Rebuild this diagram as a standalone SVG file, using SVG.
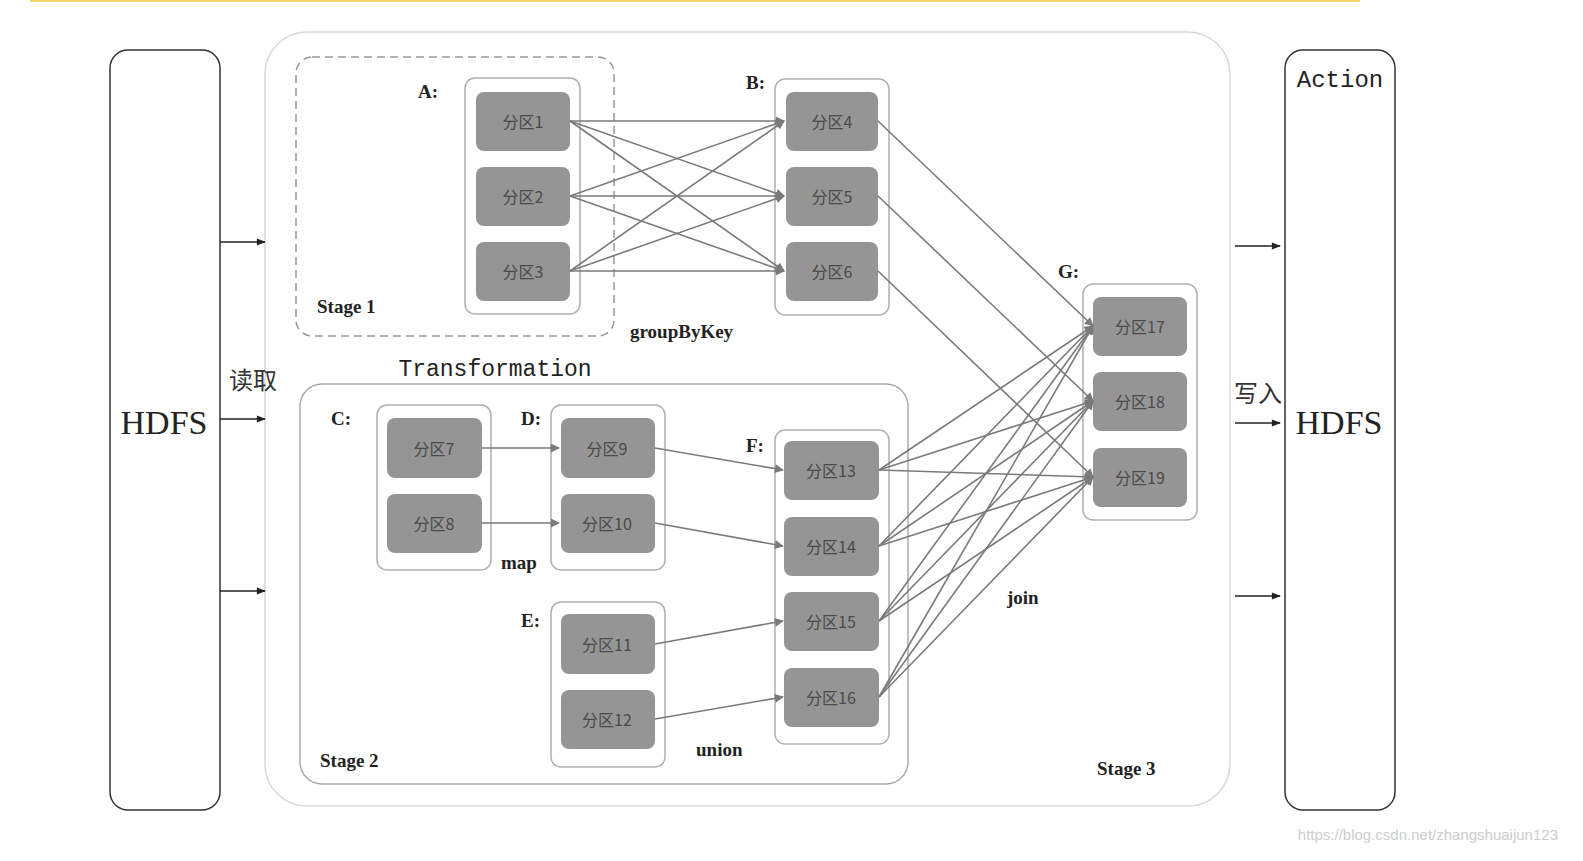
<svg xmlns="http://www.w3.org/2000/svg" width="1583" height="861" viewBox="0 0 1583 861">
<style>
.grp{fill:#fff;stroke:#b0b0b0;stroke-width:1.5}
.nd rect{fill:#959595;stroke:none}
.nd text{fill:#4a4a4a;font-family:"Noto Sans CJK SC","Liberation Serif",serif;font-size:16px;text-anchor:middle;dominant-baseline:central}
.lbl{font-family:"Liberation Serif",serif;font-size:19px;fill:#222;font-weight:bold}
.e{stroke:#7a7a7a;stroke-width:1.6;fill:none;marker-end:url(#ah)}
.k{stroke:#222;stroke-width:1.5;marker-end:url(#bk)}
</style>
<defs>
<marker id="ah" viewBox="0 0 10 10" refX="9" refY="5" markerWidth="10" markerHeight="9" orient="auto" markerUnits="userSpaceOnUse"><path d="M0,0L10,5L0,10z" fill="#7a7a7a"/></marker>
<marker id="bk" viewBox="0 0 10 10" refX="9" refY="5" markerWidth="10" markerHeight="9" orient="auto" markerUnits="userSpaceOnUse"><path d="M0,1L10,5L0,9z" fill="#222"/></marker>
</defs>
<rect width="1583" height="861" fill="#fff"/>
<line x1="30" y1="1" x2="1360" y2="1" stroke="#f5d66a" stroke-width="2"/>
<g id="hdfs-in"><rect x="110" y="50" width="110" height="760" rx="18" fill="#fff" stroke="#333" stroke-width="1.5"/><text x="164" y="434" font-family="Liberation Serif,serif" font-size="34" text-anchor="middle" fill="#222">HDFS</text></g>
<g id="hdfs-out"><rect x="1285" y="50" width="110" height="760" rx="18" fill="#fff" stroke="#333" stroke-width="1.5"/><text x="1340" y="87" font-family="Liberation Mono,monospace" font-size="24" text-anchor="middle" fill="#222">Action</text><text x="1339" y="434" font-family="Liberation Serif,serif" font-size="34" text-anchor="middle" fill="#222">HDFS</text></g>
<g id="stage3"><rect x="265" y="32" width="965" height="774" rx="42" fill="#fff" stroke="#d8d8d8" stroke-width="1.5"/><text class="lbl" x="1097" y="775">Stage 3</text></g>
<g id="stage1"><rect x="296" y="57" width="318" height="279" rx="16" fill="none" stroke="#999" stroke-width="1.5" stroke-dasharray="8,5"/><text class="lbl" x="317" y="313">Stage 1</text></g>
<g id="stage2"><rect x="300" y="384" width="608" height="400" rx="22" fill="none" stroke="#aaa" stroke-width="1.5"/><text class="lbl" x="320" y="767">Stage 2</text><text x="495" y="376" font-family="Liberation Mono,monospace" font-size="23" text-anchor="middle" fill="#222">Transformation</text></g>
<g id="A"><rect class="grp" x="465" y="78" width="115" height="236" rx="10"/><text class="lbl" x="418" y="98">A:</text>
<g class="nd"><rect x="476" y="92" width="94" height="59" rx="8"/><text x="523" y="121">分区1</text></g>
<g class="nd"><rect x="476" y="167" width="94" height="59" rx="8"/><text x="523" y="196">分区2</text></g>
<g class="nd"><rect x="476" y="242" width="94" height="59" rx="8"/><text x="523" y="271">分区3</text></g></g>
<g id="B"><rect class="grp" x="775" y="79" width="114" height="236" rx="10"/><text class="lbl" x="746" y="89">B:</text>
<g class="nd"><rect x="786" y="92" width="92" height="59" rx="8"/><text x="832" y="121">分区4</text></g>
<g class="nd"><rect x="786" y="167" width="92" height="59" rx="8"/><text x="832" y="196">分区5</text></g>
<g class="nd"><rect x="786" y="242" width="92" height="59" rx="8"/><text x="832" y="271">分区6</text></g></g>
<g id="G"><rect class="grp" x="1083" y="284" width="114" height="236" rx="10"/><text class="lbl" x="1058" y="278">G:</text>
<g class="nd"><rect x="1093" y="297" width="94" height="59" rx="8"/><text x="1140" y="326">分区17</text></g>
<g class="nd"><rect x="1093" y="372" width="94" height="59" rx="8"/><text x="1140" y="401">分区18</text></g>
<g class="nd"><rect x="1093" y="448" width="94" height="59" rx="8"/><text x="1140" y="477">分区19</text></g></g>
<g id="C"><rect class="grp" x="377" y="405" width="114" height="165" rx="10"/><text class="lbl" x="331" y="425">C:</text>
<g class="nd"><rect x="387" y="418" width="95" height="60" rx="8"/><text x="434" y="448">分区7</text></g>
<g class="nd"><rect x="387" y="494" width="95" height="59" rx="8"/><text x="434" y="523">分区8</text></g></g>
<g id="D"><rect class="grp" x="551" y="405" width="114" height="165" rx="10"/><text class="lbl" x="521" y="425">D:</text>
<g class="nd"><rect x="561" y="418" width="94" height="60" rx="8"/><text x="607" y="448">分区9</text></g>
<g class="nd"><rect x="561" y="494" width="94" height="59" rx="8"/><text x="607" y="523">分区10</text></g></g>
<g id="E"><rect class="grp" x="551" y="602" width="114" height="165" rx="10"/><text class="lbl" x="521" y="627">E:</text>
<g class="nd"><rect x="561" y="614" width="94" height="60" rx="8"/><text x="607" y="644">分区11</text></g>
<g class="nd"><rect x="561" y="690" width="94" height="59" rx="8"/><text x="607" y="719">分区12</text></g></g>
<g id="F"><rect class="grp" x="775" y="430" width="114" height="314" rx="10"/><text class="lbl" x="746" y="452">F:</text>
<g class="nd"><rect x="784" y="441" width="95" height="59" rx="8"/><text x="831" y="470">分区13</text></g>
<g class="nd"><rect x="784" y="517" width="95" height="59" rx="8"/><text x="831" y="546">分区14</text></g>
<g class="nd"><rect x="784" y="592" width="95" height="59" rx="8"/><text x="831" y="621">分区15</text></g>
<g class="nd"><rect x="784" y="668" width="95" height="59" rx="8"/><text x="831" y="697">分区16</text></g></g>
<g id="connectors">
<path class="e" d="M570,121L784,121"/><path class="e" d="M570,121L784,196"/><path class="e" d="M570,121L784,271"/>
<path class="e" d="M570,196L784,121"/><path class="e" d="M570,196L784,196"/><path class="e" d="M570,196L784,271"/>
<path class="e" d="M570,271L784,121"/><path class="e" d="M570,271L784,196"/><path class="e" d="M570,271L784,271"/>
<path class="e" d="M878,121L1093,326"/><path class="e" d="M878,196L1093,401"/><path class="e" d="M878,271L1093,477"/>
<path class="e" d="M879,470L1093,326"/><path class="e" d="M879,470L1093,401"/><path class="e" d="M879,470L1093,477"/>
<path class="e" d="M879,546L1093,326"/><path class="e" d="M879,546L1093,401"/><path class="e" d="M879,546L1093,477"/>
<path class="e" d="M879,621L1093,326"/><path class="e" d="M879,621L1093,401"/><path class="e" d="M879,621L1093,477"/>
<path class="e" d="M879,697L1093,326"/><path class="e" d="M879,697L1093,401"/><path class="e" d="M879,697L1093,477"/>
<path class="e" d="M482,448L559,448"/><path class="e" d="M482,523L559,523"/>
<path class="e" d="M655,448L783,470"/><path class="e" d="M655,523L783,546"/>
<path class="e" d="M655,644L783,621"/><path class="e" d="M655,719L783,697"/>
<line class="k" x1="220" y1="242" x2="265" y2="242"/><line class="k" x1="220" y1="419" x2="265" y2="419"/><line class="k" x1="220" y1="591" x2="265" y2="591"/>
<line class="k" x1="1235" y1="246" x2="1280" y2="246"/><line class="k" x1="1235" y1="423" x2="1280" y2="423"/><line class="k" x1="1235" y1="596" x2="1280" y2="596"/>
</g>
<text class="lbl" x="630" y="338">groupByKey</text>
<text class="lbl" x="501" y="569">map</text>
<text class="lbl" x="696" y="756">union</text>
<text class="lbl" x="1007" y="604">join</text>
<text x="253" y="389" font-family="Noto Sans CJK SC,sans-serif" font-size="24" text-anchor="middle" fill="#333">读取</text>
<text x="1258" y="402" font-family="Noto Sans CJK SC,sans-serif" font-size="24" text-anchor="middle" fill="#333">写入</text>
<text x="1558" y="840" font-family="Liberation Sans,sans-serif" font-size="15" text-anchor="end" fill="#ccc">https://blog.csdn.net/zhangshuaijun123</text>
</svg>
